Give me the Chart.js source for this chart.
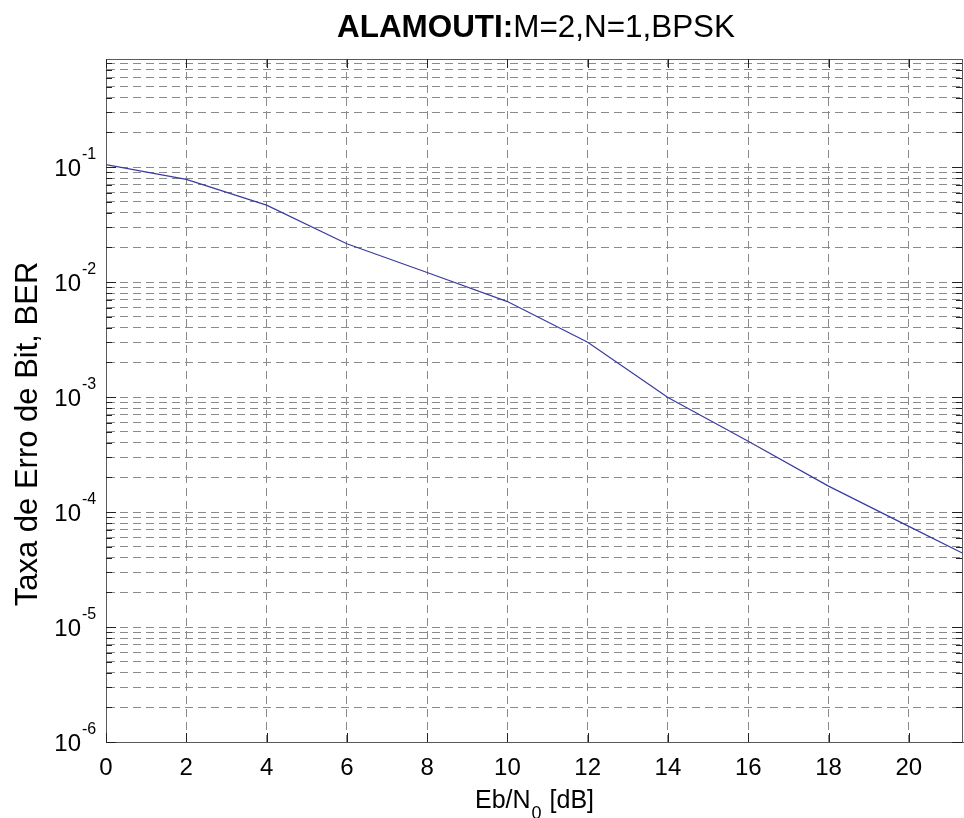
<!DOCTYPE html>
<html>
<head>
<meta charset="utf-8">
<script src="https://cdn.jsdelivr.net/npm/chart.js@4"></script>
<style>
  html, body { margin: 0; padding: 0; background: #fff; }
</style>
</head>
<body>
<canvas id="berChart" width="964" height="818"></canvas>
<script>
// Eb/N0 (dB) e BER
const ebN0 = [0, 2, 4, 6, 8, 10, 12, 14, 16, 18, 20, 22];
const ber = [0.105, 0.078, 0.0466, 0.0215, 0.0121, 0.00676, 0.0030, 0.00099, 0.000413, 0.000168, 0.000075, 0.0000336];

// ticks
const xTicks = [0, 2, 4, 6, 8, 10, 12, 14, 16, 18, 20];
const yDecades = [-6, -5, -4, -3, -2, -1];

const titleBold = 'ALAMOUTI:';
const titleRest = 'M=2,N=1,BPSK';
const xLabelMain = 'Eb/N';
const xLabelSub = '0';
const xLabelEnd = ' [dB]';
const yLabel = 'Taxa de Erro de Bit, BER';

const FONT = '"Liberation Sans", Arial, Helvetica, sans-serif';
const X_MAX = 21.35;
const Y_MIN = 1e-6;
const Y_MAX = 0.87;

// linhas de grade minor/major do eixo log
const yGridValues = [];
for (const k of yDecades) {
    for (let m = 1; m <= 9; m++) {
        const v = m * Math.pow(10, k);
        if (v <= Y_MAX) yGridValues.push(v);
    }
}

const extras = {
    id: 'extras',
    afterDraw(chart) {
        const ctx = chart.ctx;
        const a = chart.chartArea;
        const xs = chart.scales.x;
        const ys = chart.scales.y;
        ctx.save();

        // caixa do eixo
        ctx.strokeStyle = '#5a5a5a';
        ctx.lineWidth = 1;
        ctx.strokeRect(Math.round(a.left) + 0.5, Math.round(a.top) + 0.5,
            Math.round(a.right - a.left) - 1, Math.round(a.bottom - a.top));

        // marcas dos ticks (para dentro)
        ctx.strokeStyle = '#222';
        ctx.beginPath();
        for (const t of xTicks) {
            const px = Math.round(xs.getPixelForValue(t)) + 0.5;
            ctx.moveTo(px, a.bottom); ctx.lineTo(px, a.bottom - 9);
            ctx.moveTo(px, a.top); ctx.lineTo(px, a.top + 9);
        }
        for (const v of yGridValues) {
            const py = Math.round(ys.getPixelForValue(v)) + 0.5;
            const len = Math.abs(Math.log10(v) - Math.round(Math.log10(v))) < 1e-9 ? 10 : 6;
            ctx.moveTo(a.left, py); ctx.lineTo(a.left + len, py);
            ctx.moveTo(a.right - 1, py); ctx.lineTo(a.right - 1 - len, py);
        }
        ctx.stroke();

        // rotulos do eixo y: 10^k
        ctx.fillStyle = '#000';
        for (const k of yDecades) {
            const py = ys.getPixelForValue(Math.pow(10, k));
            ctx.font = '24px ' + FONT;
            ctx.textAlign = 'right';
            ctx.textBaseline = 'alphabetic';
            ctx.fillText('10', 81, py + 9);
            ctx.font = '16px ' + FONT;
            ctx.textAlign = 'left';
            ctx.fillText(String(k), 82, py - 8);
        }

        // titulo
        ctx.textAlign = 'left';
        ctx.textBaseline = 'alphabetic';
        ctx.font = 'bold 31px ' + FONT;
        const w1 = ctx.measureText(titleBold).width;
        ctx.font = '31px ' + FONT;
        const w2 = ctx.measureText(titleRest).width;
        const sx = 398 / (w1 + w2);
        ctx.save();
        ctx.translate(337, 37);
        ctx.scale(sx, 1);
        ctx.font = 'bold 31px ' + FONT;
        ctx.fillText(titleBold, 0, 0);
        ctx.font = '31px ' + FONT;
        ctx.fillText(titleRest, w1, 0);
        ctx.restore();

        // titulo do eixo x com subscrito
        ctx.font = '25px ' + FONT;
        const wa = ctx.measureText(xLabelMain).width;
        const wc = ctx.measureText(xLabelEnd).width;
        ctx.font = '18px ' + FONT;
        const wb = ctx.measureText(xLabelSub).width + 2;
        const cx = (a.left + a.right) / 2;
        let x0 = cx - (wa + wb + wc) / 2;
        ctx.font = '25px ' + FONT;
        ctx.fillText(xLabelMain, x0, 808);
        ctx.font = '18px ' + FONT;
        ctx.fillText(xLabelSub, x0 + wa + 1, 819);
        ctx.font = '25px ' + FONT;
        ctx.fillText(xLabelEnd, x0 + wa + wb, 808);

        // titulo do eixo y
        ctx.save();
        ctx.translate(37, 434);
        ctx.rotate(-Math.PI / 2);
        ctx.font = '31px ' + FONT;
        ctx.textAlign = 'center';
        ctx.fillText(yLabel, 0, 0);
        ctx.restore();

        ctx.restore();
    }
};

const ctx = document.getElementById('berChart').getContext('2d');
new Chart(ctx, {
    type: 'line',
    data: {
        datasets: [{
            data: ebN0.map((x, i) => ({ x: x, y: ber[i] })),
            borderColor: '#3a3aa0',
            borderWidth: 1.2,
            pointRadius: 0,
            tension: 0,
            fill: false
        }]
    },
    options: {
        responsive: false,
        animation: false,
        devicePixelRatio: 1,
        layout: { padding: { top: 59, right: 1, left: 0, bottom: 0 } },
        plugins: {
            legend: { display: false },
            title: { display: false },
            tooltip: { enabled: false }
        },
        scales: {
            x: {
                type: 'linear',
                min: 0,
                max: X_MAX,
                afterBuildTicks: s => { s.ticks = xTicks.map(v => ({ value: v })); },
                afterFit: s => { s.height = 76; },
                grid: { color: '#8a8a8a', lineWidth: 1, drawTicks: false },
                border: { display: true, color: '#5a5a5a', dash: [8, 5] },
                ticks: {
                    padding: 12,
                    color: '#000',
                    font: { family: FONT, size: 24 },
                    maxRotation: 0,
                    autoSkip: false
                }
            },
            y: {
                type: 'logarithmic',
                min: Y_MIN,
                max: Y_MAX,
                afterBuildTicks: s => { s.ticks = yGridValues.map(v => ({ value: v })); },
                afterFit: s => { s.width = 106; },
                grid: { color: '#8a8a8a', lineWidth: 1, drawTicks: false },
                border: { display: true, color: '#5a5a5a', dash: [8, 5] },
                ticks: { display: false, autoSkip: false }
            }
        }
    },
    plugins: [extras]
});
</script>
</body>
</html>
